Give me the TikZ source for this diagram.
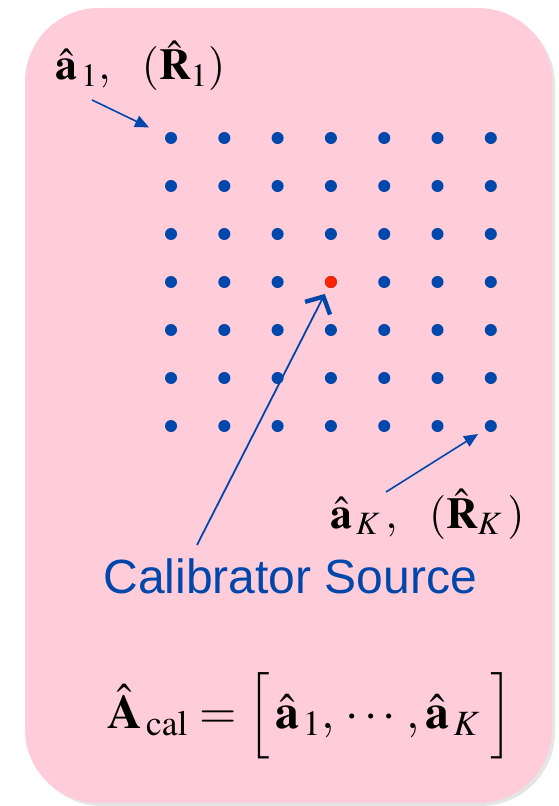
\documentclass[tikz,border=0pt]{standalone}
\usepackage{amsmath}
\usepackage{mathptmx}
\usepackage[no-math]{fontspec}
\newfontfamily\arialfont{Liberation Sans}
\usepackage{xcolor}
\usepackage{tikz}
\usetikzlibrary{arrows.meta,positioning,calc}
\definecolor{boxPink}{HTML}{FFCCD9}
\definecolor{dotBlue}{HTML}{0047AB}
\definecolor{srcRed}{HTML}{FF2400}

\tikzset{
  elem/.style={circle,fill=dotBlue,inner sep=0pt,minimum size=6pt},
  calib/.style={elem,fill=srcRed},
  ptr/.style={dotBlue,line width=0.8pt,-{Triangle[length=7pt,width=6pt]}},
  srcptr/.style={dotBlue,line width=0.9pt,-{Straight Barb[length=6.5pt,width=14pt,line width=2.2pt]}},
  lbl/.style={inner sep=0pt,anchor=base west,font=\fontsize{22}{26}\selectfont},
}

\begin{document}
\begin{tikzpicture}[x=0.5pt,y=-0.5pt]
\useasboundingbox (0,0) rectangle (558,806);
% panel
\fill[black!10,rounded corners=37pt] (28,11) rectangle (555,806);
\fill[boxPink,rounded corners=37pt] (25,8) rectangle (552,803);
% array elements
\foreach \i in {0,...,6}{
  \foreach \j in {0,...,6}{
    \node[elem] (d-\i-\j) at ({171+53.3*\i},{138+48*\j}) {};
  }
}
\node[calib] (src) at (d-3-3) {};
% labels
\node[lbl] (lab1) at (55,80) {$\hat{\mathbf a}_{\,1},\ \ (\hat{\mathbf R}_{1})$};
\node[lbl] (labK) at (330,528) {$\hat{\mathbf a}_{\,K}\,,\ \ (\hat{\mathbf R}_{K}\,)$};
\node[inner sep=0pt,anchor=base west,text=dotBlue,font=\arialfont\fontsize{24}{28}\selectfont] (srcname) at (103,593) {Calibrator Source};
\node[inner sep=0pt,anchor=base west,font=\fontsize{24}{28}\selectfont] (acal) at (107,728)
  {$\hat{\mathbf A}_{\,\mathrm{cal}}\;{=}\;\Big[\,\hat{\mathbf a}_{\,1},\,\cdots,\hat{\mathbf a}_{\,K}\;\Big]$};
% pointers
\coordinate (t1) at (92,100);
\coordinate (tK) at (386,492);
\coordinate (tS) at (197,545);
\draw[ptr,shorten >=9pt] (t1) -- (d-0-0);
\draw[ptr,shorten >=4.3pt] (tK) -- (d-6-6);
\draw[srcptr,shorten >=3.5pt] (tS) -- (src);
\end{tikzpicture}
\end{document}
